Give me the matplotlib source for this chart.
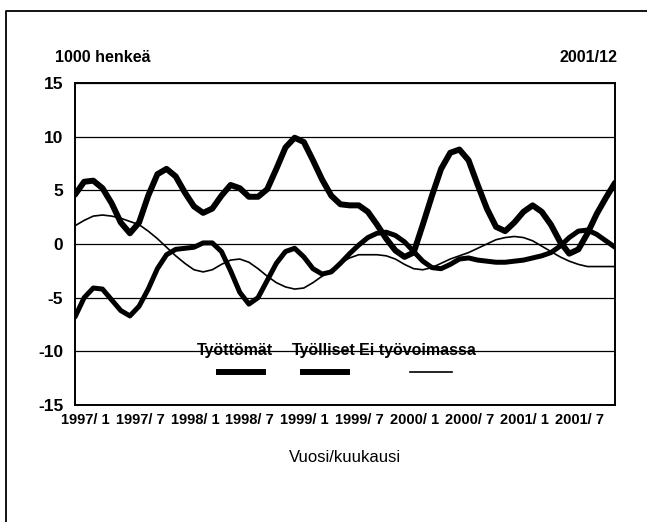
import matplotlib
matplotlib.use("Agg")
import matplotlib.pyplot as plt
import matplotlib.transforms as mtransforms
from matplotlib.lines import Line2D

# monthly values 1997/1 .. 2001/12, 1000 persons
tyolliset = [4.6, 5.8, 5.9, 5.2, 3.8, 2.0, 1.0, 2.0, 4.5, 6.5, 7.0, 6.3,
             4.8, 3.5, 2.9, 3.3, 4.5, 5.5, 5.2, 4.4, 4.4, 5.1, 7.0, 9.0,
             9.9, 9.5, 7.8, 6.0, 4.5, 3.7, 3.6, 3.6, 3.0, 1.8, 0.5, -0.6,
             -1.2, -0.8, 1.8, 4.5, 7.0, 8.5, 8.8, 7.8, 5.5, 3.3, 1.6, 1.2,
             2.0, 3.0, 3.6, 3.0, 1.8, 0.2, -0.9, -0.5, 1.0, 2.8, 4.3, 5.7]
tyottomat = [-6.8, -5.0, -4.1, -4.2, -5.2, -6.2, -6.7, -5.8, -4.2, -2.3, -1.0, -0.5,
             -0.4, -0.3, 0.1, 0.1, -0.7, -2.5, -4.5, -5.6, -5.0, -3.4, -1.8, -0.7,
             -0.4, -1.2, -2.3, -2.8, -2.6, -1.8, -0.9, -0.1, 0.6, 1.0, 1.1, 0.8,
             0.2, -0.7, -1.6, -2.2, -2.3, -1.9, -1.4, -1.3, -1.5, -1.6, -1.7, -1.7,
             -1.6, -1.5, -1.3, -1.1, -0.8, -0.2, 0.6, 1.2, 1.3, 0.9, 0.3, -0.3]
ei_tyovoimassa = [1.7, 2.2, 2.6, 2.7, 2.6, 2.4, 2.1, 1.8, 1.2, 0.5, -0.3, -1.1,
                  -1.8, -2.4, -2.6, -2.4, -1.9, -1.5, -1.4, -1.7, -2.3, -3.0, -3.6, -4.0,
                  -4.2, -4.1, -3.6, -3.0, -2.4, -1.8, -1.3, -1.0, -1.0, -1.0, -1.1, -1.4,
                  -1.9, -2.3, -2.4, -2.2, -1.8, -1.4, -1.1, -0.8, -0.4, 0.0, 0.4, 0.6,
                  0.7, 0.6, 0.3, -0.2, -0.7, -1.2, -1.6, -1.9, -2.1, -2.1, -2.1, -2.1]
tick_labels = ["1997/ 1", "1997/ 7", "1998/ 1", "1998/ 7", "1999/ 1",
               "1999/ 7", "2000/ 1", "2000/ 7", "2001/ 1", "2001/ 7"]
series_names = ["Työttömät", "Työlliset", "Ei työvoimassa"]

plt.rcParams['font.family'] = ['Liberation Sans', 'DejaVu Sans']
plt.rcParams['font.weight'] = 'bold'

fig = plt.figure(figsize=(6.47, 5.22), dpi=100)
ax = fig.add_axes([75 / 647, 1 - 405 / 522, 540 / 647, 322 / 522])

months = list(range(len(tyolliset)))
ax.plot(months, tyolliset, color="black", lw=4.3, solid_capstyle="round",
        solid_joinstyle="round", zorder=3)
ax.plot(months, tyottomat, color="black", lw=3.6, solid_capstyle="round",
        solid_joinstyle="round", zorder=3)
ax.plot(months, ei_tyovoimassa, color="black", lw=1.2, solid_joinstyle="round", zorder=2)

ax.set_xlim(0, len(months) - 1)
ax.set_ylim(-15, 15)
ax.set_yticks(range(-15, 16, 5))
ax.set_yticklabels([str(v) for v in range(-15, 16, 5)], fontsize=12.5)
ax.set_xticks(range(0, len(months), 6))
ax.set_xticklabels(tick_labels, fontsize=10.5)
ax.tick_params(length=0)
ax.tick_params(axis="y", pad=8.5)
ax.tick_params(axis="x", pad=6)
offset = mtransforms.ScaledTranslation(10 / 100, 0, fig.dpi_scale_trans)
for lbl in ax.get_xticklabels():
    lbl.set_transform(lbl.get_transform() + offset)
ax.grid(axis="y", color="black", lw=0.9)
for s in ax.spines.values():
    s.set_linewidth(1.4)

ax.set_xlabel("Vuosi/kuukausi", fontsize=12, fontweight="normal", labelpad=16)

# legend: names on the -10 line, line samples below
name_x = [197, 292, 359]
sample_x = [(219, 263), (303, 347), (410, 452)]
sample_w = [4.3, 4.3, 1.2]
for name, nx, (sx0, sx1), w in zip(series_names, name_x, sample_x, sample_w):
    fig.text(nx / 647, 1 - 355 / 522, name, fontsize=11.5, ha="left", va="baseline")
    fig.add_artist(Line2D([sx0 / 647, sx1 / 647], [1 - 372 / 522] * 2,
                          color="black", lw=w))

fig.text(55 / 647, 1 - 57 / 522, "1000 henkeä", fontsize=11.5, ha="left", va="center")
fig.text(617 / 647, 1 - 57 / 522, "2001/12", fontsize=11.5, ha="right", va="center")

# outer frame (top and left edges only visible)
fig.add_artist(Line2D([6 / 647, 6 / 647, 1.0], [0.0, 1 - 11 / 522, 1 - 11 / 522],
                      color="black", lw=1.3))

fig.savefig("out.png", dpi=100)
